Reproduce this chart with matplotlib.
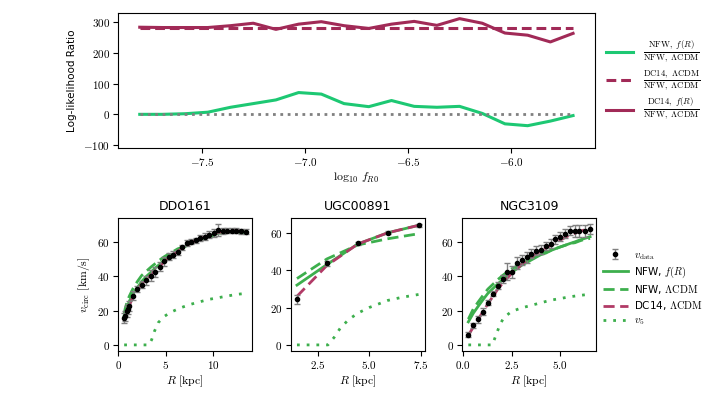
import numpy as np
import matplotlib
matplotlib.use("Agg")
import matplotlib.pyplot as plt
from matplotlib.ticker import FuncFormatter

plt.rcParams['mathtext.fontset'] = 'cm'
plt.rcParams['font.family'] = ['DejaVu Sans']

# top panel: log-likelihood ratio vs log10 fR0
log_fR0 = [-7.80, -7.69, -7.58, -7.47, -7.36, -7.25, -7.14, -7.03, -6.92, -6.81,
           -6.69, -6.58, -6.47, -6.36, -6.25, -6.14, -6.03, -5.92, -5.81, -5.70]
nfw_fR = [0, 0, 2, 7, 23, 35, 47, 71, 66, 35,
          25, 45, 26, 23, 26, 3, -31, -37, -22, -4]
dc14_lcdm = [283] * 20
dc14_fR = [284, 283, 283, 283, 289, 297, 277, 294, 302, 289,
           280, 294, 303, 290, 312, 297, 265, 258, 236, 264]
zero_line = [0] * 20

# DDO161
ddo_R = [0.6, 0.7, 0.85, 1.0, 1.15, 1.55, 2.0, 2.45, 2.95, 3.45, 3.9, 4.35, 4.85, 5.3, 5.8,
         6.25, 6.75, 7.25, 7.7, 8.2, 8.65, 9.15, 9.6, 10.1, 10.55, 11.0, 11.5, 12.0, 12.45, 12.95, 13.45]
ddo_v = [15.7, 17, 19.5, 21, 22.5, 28.7, 32.6, 35, 37.7, 40.4, 42.7, 45.6, 48.7, 51.3, 52.6,
         54, 57, 59.4, 60.2, 61, 62.3, 63, 64.3, 65.2, 67, 66.4, 66.5, 66.5, 66.5, 66.2, 66]
ddo_err = [3, 3, 3, 3, 3, 2.5, 2, 2, 2.5, 3, 3, 2.5, 2.5, 2, 2,
           1.5, 1.5, 1.5, 1.5, 1.5, 2, 2, 2, 2.5, 3.5, 2, 1.5, 1.5, 1.5, 1.5, 1.5]
ddo_nfw_fR = [17, 19, 21.5, 23.5, 25.5, 30, 33.5, 37, 40, 42.5, 45, 47, 49.5, 51.5, 53,
              55, 56.5, 58, 59.5, 60.5, 61.5, 62.5, 63.5, 64.5, 65, 65.5, 66, 66, 66, 66, 66]
ddo_nfw_lcdm = [18, 21, 24, 26.5, 28.5, 33, 37, 40.5, 43, 45.5, 47.5, 49.5, 51.5, 53, 54.5,
                56, 57, 58.5, 59.5, 60.5, 61.5, 62.5, 63, 64, 64.5, 65, 65.5, 65.5, 65.5, 65.5, 65.5]
ddo_dc14 = [14, 16, 18.5, 21, 23, 28.5, 32.5, 35.5, 38.5, 41, 43.5, 46, 48.5, 50.5, 52.5,
            54.5, 56.5, 58, 59.5, 61, 62, 63, 64, 65, 65.5, 66, 66, 66.5, 66.5, 66.5, 66.5]
ddo_v5_R = [0.6, 1.5, 2.5, 3.2, 3.5, 3.8, 4.2, 4.8, 5.5, 6.5, 7.5, 8.5, 9.5, 10.5, 11.5, 12.5, 13.45]
ddo_v5 = [0, 0, 0, 0, 3, 8, 13, 16.5, 19, 21.5, 23.5, 25, 26.5, 27.5, 28.5, 29.5, 30]

# UGC00891
ugc_R = [1.5, 2.95, 4.45, 5.9, 7.4]
ugc_v = [24.3, 43.6, 54.3, 60, 63.9]
ugc_err = [2.5, 1.2, 0.8, 0.8, 0.8]
ugc_nfw_fR = [32, 43, 54, 60, 64]
ugc_nfw_lcdm = [35.5, 46, 53.5, 56.8, 59.5]
ugc_dc14 = [26, 42.5, 54, 60, 64]
ugc_v5_R = [1.5, 2.5, 3.0, 3.3, 3.6, 4.0, 4.45, 5.0, 5.9, 6.6, 7.4]
ugc_v5 = [0, 0, 0, 4, 9, 13.5, 17, 20, 23.8, 25.5, 27]

# NGC3109
ngc_R = [0.26, 0.52, 0.77, 1.03, 1.27, 1.55, 1.78, 2.04, 2.28, 2.53, 2.79, 3.03, 3.28,
         3.52, 3.76, 4.0, 4.27, 4.53, 4.76, 5.0, 5.26, 5.5, 5.77, 6.0, 6.27, 6.55]
ngc_v = [6, 11.3, 15, 19.4, 24.5, 29.9, 34.4, 38.3, 42.7, 42.5, 47.6, 49.3, 50.9,
         53.2, 54.8, 55.5, 57.5, 59, 61.5, 63, 64.7, 66.6, 66.4, 66.4, 66.5, 67.4]
ngc_err = [1.5, 1.5, 2, 2, 1.5, 1.5, 2, 2.5, 5, 3.5, 3.5, 3, 3,
           2.5, 2.5, 2.5, 2.5, 2.5, 2.5, 2.5, 2.5, 2.5, 3.5, 3.5, 3.5, 3]
ngc_nfw_fR = [13.4, 18.5, 22.5, 26.5, 30, 33, 35.5, 38, 40.5, 42.5, 44.5, 46.5, 48,
              49.5, 51, 52.5, 53.5, 55, 56, 57, 58, 59, 60, 61, 62, 63]
ngc_nfw_lcdm = [15, 21, 25, 29, 32.5, 35.5, 38, 40.5, 42.5, 44.5, 46, 47.5, 49,
                50.5, 51.5, 53, 54, 55, 56, 57, 58, 59, 59.5, 60.5, 61.5, 62]
ngc_dc14 = [5.5, 10.5, 15, 19.5, 24, 28.5, 32.5, 36, 39, 42, 44.5, 47, 49,
            51, 53, 54.5, 56.5, 58, 59.5, 61, 62.5, 64, 65, 66, 67, 68]
ngc_v5_R = [0.26, 1.0, 1.5, 1.7, 1.9, 2.1, 2.5, 3.0, 3.5, 4.0, 4.5, 5.0, 5.5, 6.0, 6.55]
ngc_v5 = [0, 0, 0, 6, 12, 16, 19.5, 21.5, 23, 24.5, 26, 27, 28, 28.8, 29.5]

top_green = '#1dc873'
top_red = '#a12a57'
green = '#3daf4d'
red = '#b13a66'


def math_fmt(x, pos):
    return '$%g$' % x


fig = plt.figure(figsize=(7.2, 3.97), dpi=100)

# top panel
ax = fig.add_axes([0.164, 0.627, 0.662, 0.34])
ax.plot(log_fR0, nfw_fR, color=top_green, lw=2.2,
        label=r'$\frac{\mathrm{NFW},\ f(R)}{\mathrm{NFW},\ \Lambda\mathrm{CDM}}$')
ax.plot(log_fR0, dc14_lcdm, color=top_red, lw=2.2, ls=(0, (3.2, 1.6)),
        label=r'$\frac{\mathrm{DC14},\ \Lambda\mathrm{CDM}}{\mathrm{NFW},\ \Lambda\mathrm{CDM}}$')
ax.plot(log_fR0, dc14_fR, color=top_red, lw=2.2,
        label=r'$\frac{\mathrm{DC14},\ f(R)}{\mathrm{NFW},\ \Lambda\mathrm{CDM}}$')
ax.plot(log_fR0, zero_line, color='gray', ls=':', lw=2)
ax.set_ylim(-110, 330)
ax.set_xticks([-7.5, -7.0, -6.5, -6.0])
ax.set_yticks([-100, 0, 100, 200, 300])
ax.xaxis.set_major_formatter(FuncFormatter(lambda x, p: '$%.1f$' % x))
ax.yaxis.set_major_formatter(FuncFormatter(math_fmt))
ax.tick_params(labelsize=8, pad=2.5)
ax.set_xlabel(r'$\log_{10}\,f_{R0}$', fontsize=8.5, labelpad=2)
ax.set_ylabel('Log-likelihood Ratio', fontsize=7.5)
ax.legend(loc='center left', bbox_to_anchor=(1.0, 0.5), frameon=False,
          fontsize=9, handlelength=2.2, labelspacing=0.3)

# bottom panels
panels = [
    ('DDO161', ddo_R, ddo_v, ddo_err, ddo_nfw_fR, ddo_nfw_lcdm, ddo_dc14, ddo_v5_R, ddo_v5, [0, 5, 10]),
    ('UGC00891', ugc_R, ugc_v, ugc_err, ugc_nfw_fR, ugc_nfw_lcdm, ugc_dc14, ugc_v5_R, ugc_v5, [2.5, 5.0, 7.5]),
    ('NGC3109', ngc_R, ngc_v, ngc_err, ngc_nfw_fR, ngc_nfw_lcdm, ngc_dc14, ngc_v5_R, ngc_v5, [0.0, 2.5, 5.0]),
]
lefts = [0.164, 0.404, 0.642]
for i, (name, R, v, err, m1, m2, m3, R5, v5, xt) in enumerate(panels):
    a = fig.add_axes([lefts[i], 0.116, 0.186, 0.335])
    eb = a.errorbar(R, v, yerr=err, fmt='o', color='k', ms=3, ecolor='gray',
                    elinewidth=1, capsize=2, zorder=5)
    l1, = a.plot(R, m1, color=green, lw=2)
    l2, = a.plot(R, m2, color=green, lw=2, ls=(0, (4, 2)))
    l3, = a.plot(R, m3, color=red, lw=2, ls=(0, (4, 2)))
    l4, = a.plot(R5, v5, color=green, lw=2, ls=(0, (1, 2.5)))
    a.set_title(name, fontsize=9)
    a.set_xticks(xt)
    if name == 'DDO161':
        a.xaxis.set_major_formatter(FuncFormatter(math_fmt))
        a.set_ylabel(r'$v_{\rm circ}\ [\mathrm{km/s}]$', fontsize=8.5)
    else:
        a.xaxis.set_major_formatter(FuncFormatter(lambda x, p: '$%.1f$' % x))
    a.set_yticks([0, 20, 40, 60])
    a.yaxis.set_major_formatter(FuncFormatter(math_fmt))
    a.tick_params(labelsize=8, pad=2.5)
    a.set_xlabel(r'$R\ [\mathrm{kpc}]$', fontsize=8.5, labelpad=2)
    if name == 'NGC3109':
        a.legend([eb, l1, l2, l3, l4],
                 [r'$v_{\rm data}$', r'NFW, $f(R)$', r'NFW, $\Lambda\mathrm{CDM}$',
                  r'DC14, $\Lambda\mathrm{CDM}$', r'$v_5$'],
                 loc='center left', bbox_to_anchor=(0.98, 0.47), frameon=False,
                 fontsize=7.5, handlelength=2.4, labelspacing=0.3, handletextpad=0.6)

fig.savefig('out.png', dpi=100)
